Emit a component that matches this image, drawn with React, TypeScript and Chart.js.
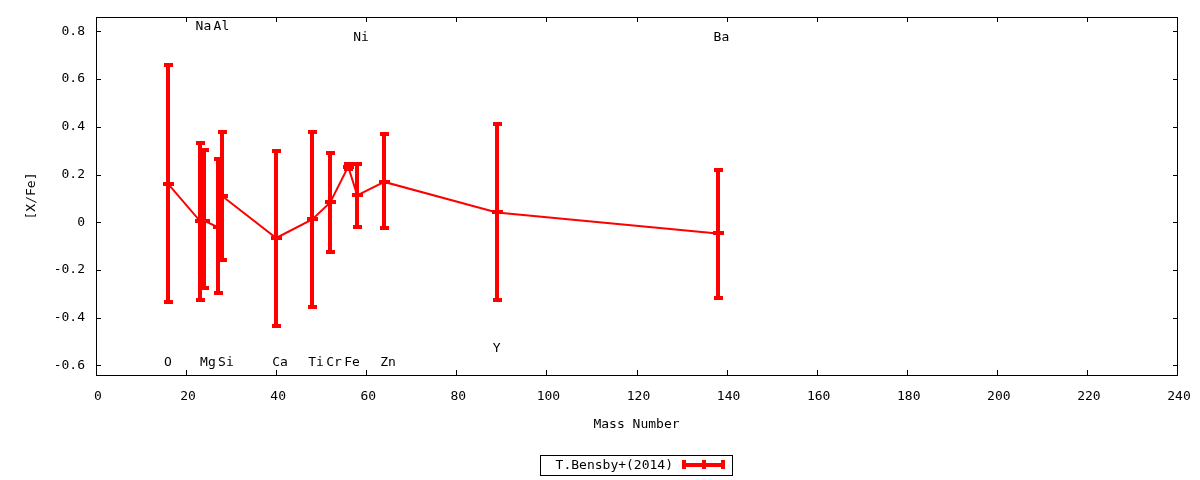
import React, { useEffect, useRef } from "react";
import { Chart, registerables } from "chart.js";

Chart.register(...registerables);

// ---- data ----
const elements = ["O", "Na", "Mg", "Al", "Si", "Ca", "Ti", "Cr", "Fe", "Ni", "Zn", "Y", "Ba"];
const massNumbers = [16, 23, 24, 27, 28, 40, 48, 52, 56, 58, 64, 89, 138];
const xFeValues = [0.161, 0.007, 0.007, -0.021, 0.11, -0.066, 0.012, 0.083, 0.233, 0.113, 0.169, 0.041, -0.047];
const errorHigh = [0.657, 0.334, 0.303, 0.264, 0.38, 0.299, 0.379, 0.291, 0.245, 0.243, 0.37, 0.413, 0.22];
const errorLow = [-0.336, -0.327, -0.277, -0.298, -0.157, -0.436, -0.357, -0.126, 0.222, -0.018, -0.026, -0.327, -0.319];
const labelYValues = [-0.59, 0.82, -0.59, 0.82, -0.59, -0.59, -0.59, -0.59, -0.59, 0.775, -0.59, -0.53, 0.775];
const xTickValues = [0, 20, 40, 60, 80, 100, 120, 140, 160, 180, 200, 220, 240];
const yTickValues = [-0.6, -0.4, -0.2, 0, 0.2, 0.4, 0.6, 0.8];
const xRange = [0, 240];
const yRange = [-0.64, 0.86];
const seriesName = "T.Bensby+(2014)";
const xTitle = "Mass Number";
const yTitle = "[X/Fe]";

const RED = "#ff0000";
const FONT = "13px 'DejaVu Sans Mono'";

const overlayPlugin = {
  id: "gnuplotOverlay",
  afterDatasetsDraw(chart: any) {
    const ctx = chart.ctx;
    const xs = chart.scales.x;
    const ys = chart.scales.y;
    ctx.save();
    ctx.fillStyle = RED;
    massNumbers.forEach((m, i) => {
      const x = Math.round(xs.getPixelForValue(m));
      const yT = Math.round(ys.getPixelForValue(errorHigh[i]));
      const yB = Math.round(ys.getPixelForValue(errorLow[i]));
      const yC = Math.round(ys.getPixelForValue(xFeValues[i]));
      ctx.fillRect(x - 2, yT, 4, yB - yT);
      ctx.fillRect(x - 4, yT - 2, 9, 4);
      ctx.fillRect(x - 4, yB - 2, 9, 4);
      ctx.fillRect(x - 5, yC - 2, 11, 4);
    });
    ctx.restore();
  },
  afterDraw(chart: any) {
    const ctx = chart.ctx;
    const xs = chart.scales.x;
    const ys = chart.scales.y;
    const a = chart.chartArea;
    ctx.save();
    // border
    ctx.strokeStyle = "#000";
    ctx.lineWidth = 1;
    ctx.strokeRect(a.left + 0.5, a.top + 0.5, a.right - a.left, a.bottom - a.top);
    // inward ticks, mirrored
    ctx.beginPath();
    xTickValues.forEach((v) => {
      const x = Math.round(xs.getPixelForValue(v)) + 0.5;
      ctx.moveTo(x, a.bottom);
      ctx.lineTo(x, a.bottom - 5);
      ctx.moveTo(x, a.top);
      ctx.lineTo(x, a.top + 5);
    });
    yTickValues.forEach((v) => {
      const y = Math.round(ys.getPixelForValue(v)) + 0.5;
      ctx.moveTo(a.left, y);
      ctx.lineTo(a.left + 5, y);
      ctx.moveTo(a.right + 1, y);
      ctx.lineTo(a.right - 4, y);
    });
    ctx.stroke();

    ctx.fillStyle = "#000";
    ctx.font = FONT;
    // element labels
    ctx.textAlign = "left";
    ctx.textBaseline = "middle";
    elements.forEach((el, i) => {
      const x = xs.getPixelForValue(massNumbers[i]) - 4;
      const y = ys.getPixelForValue(labelYValues[i]);
      ctx.fillText(el, x, y);
    });
    // axis titles
    const cx = (a.left + a.right) / 2;
    ctx.textAlign = "center";
    ctx.fillText(xTitle, cx, a.bottom + 50);
    ctx.save();
    ctx.translate(32, (a.top + a.bottom) / 2);
    ctx.rotate(-Math.PI / 2);
    ctx.fillText(yTitle, 0, 0);
    ctx.restore();

    // legend
    const boxL = Math.floor(cx - 96);
    const boxT = a.bottom + 80;
    ctx.strokeRect(boxL + 0.5, boxT + 0.5, 192, 20);
    const ly = boxT + 10;
    ctx.textAlign = "right";
    ctx.fillText(seriesName, boxL + 133, ly + 1);
    ctx.fillStyle = RED;
    const s0 = boxL + 142;
    const s1 = boxL + 185;
    ctx.fillRect(s0, ly - 2, s1 - s0, 4);
    ctx.fillRect(s0, ly - 5, 4, 9);
    ctx.fillRect(s1 - 4, ly - 5, 4, 9);
    ctx.fillRect(Math.round((s0 + s1) / 2) - 2, ly - 5, 4, 9);
    ctx.restore();
  },
};

export default function App() {
  const canvasRef = useRef<HTMLCanvasElement | null>(null);

  useEffect(() => {
    if (!canvasRef.current) return;
    Chart.defaults.font.family = "'DejaVu Sans Mono'";
    Chart.defaults.font.size = 13;
    Chart.defaults.color = "#000";
    const chart = new Chart(canvasRef.current, {
      type: "line",
      data: {
        datasets: [
          {
            label: seriesName,
            data: massNumbers.map((m, i) => ({ x: m, y: xFeValues[i] })),
            borderColor: RED,
            backgroundColor: RED,
            borderWidth: 2,
            pointRadius: 0,
            tension: 0,
            fill: false,
          },
        ],
      },
      options: {
        animation: false,
        responsive: false,
        devicePixelRatio: 1,
        layout: { padding: { left: 0, top: 17, right: 23, bottom: 0 } },
        plugins: {
          legend: { display: false },
          tooltip: { enabled: false },
        },
        scales: {
          x: {
            type: "linear",
            min: xRange[0],
            max: xRange[1],
            grid: { display: false, drawTicks: false },
            border: { display: false },
            afterBuildTicks: (scale: any) => {
              scale.ticks = xTickValues.map((v) => ({ value: v }));
            },
            afterFit: (scale: any) => {
              scale.height = 105;
              scale.paddingLeft = 0;
              scale.paddingRight = 0;
            },
            ticks: {
              padding: 14,
              labelOffset: 2,
              maxRotation: 0,
              autoSkip: false,
              font: { family: "'DejaVu Sans Mono'", size: 13 },
              color: "#000",
              callback: (v: any) => String(v),
            },
          },
          y: {
            type: "linear",
            min: yRange[0],
            max: yRange[1],
            grid: { display: false, drawTicks: false },
            border: { display: false },
            afterBuildTicks: (scale: any) => {
              scale.ticks = yTickValues.map((v) => ({ value: v }));
            },
            afterFit: (scale: any) => {
              scale.width = 96;
              scale.paddingTop = 0;
              scale.paddingBottom = 0;
            },
            ticks: {
              padding: 11,
              autoSkip: false,
              font: { family: "'DejaVu Sans Mono'", size: 13 },
              color: "#000",
              callback: (v: any) => (Math.abs(v) < 1e-9 ? "0" : Number(v).toFixed(1)),
            },
          },
        },
      },
      plugins: [overlayPlugin],
    });
    return () => chart.destroy();
  }, []);

  return (
    <div style={{ position: "fixed", left: 0, top: 0, width: 1200, height: 480, background: "#fff" }}>
      <canvas ref={canvasRef} width={1200} height={480} style={{ display: "block" }} />
    </div>
  );
}
